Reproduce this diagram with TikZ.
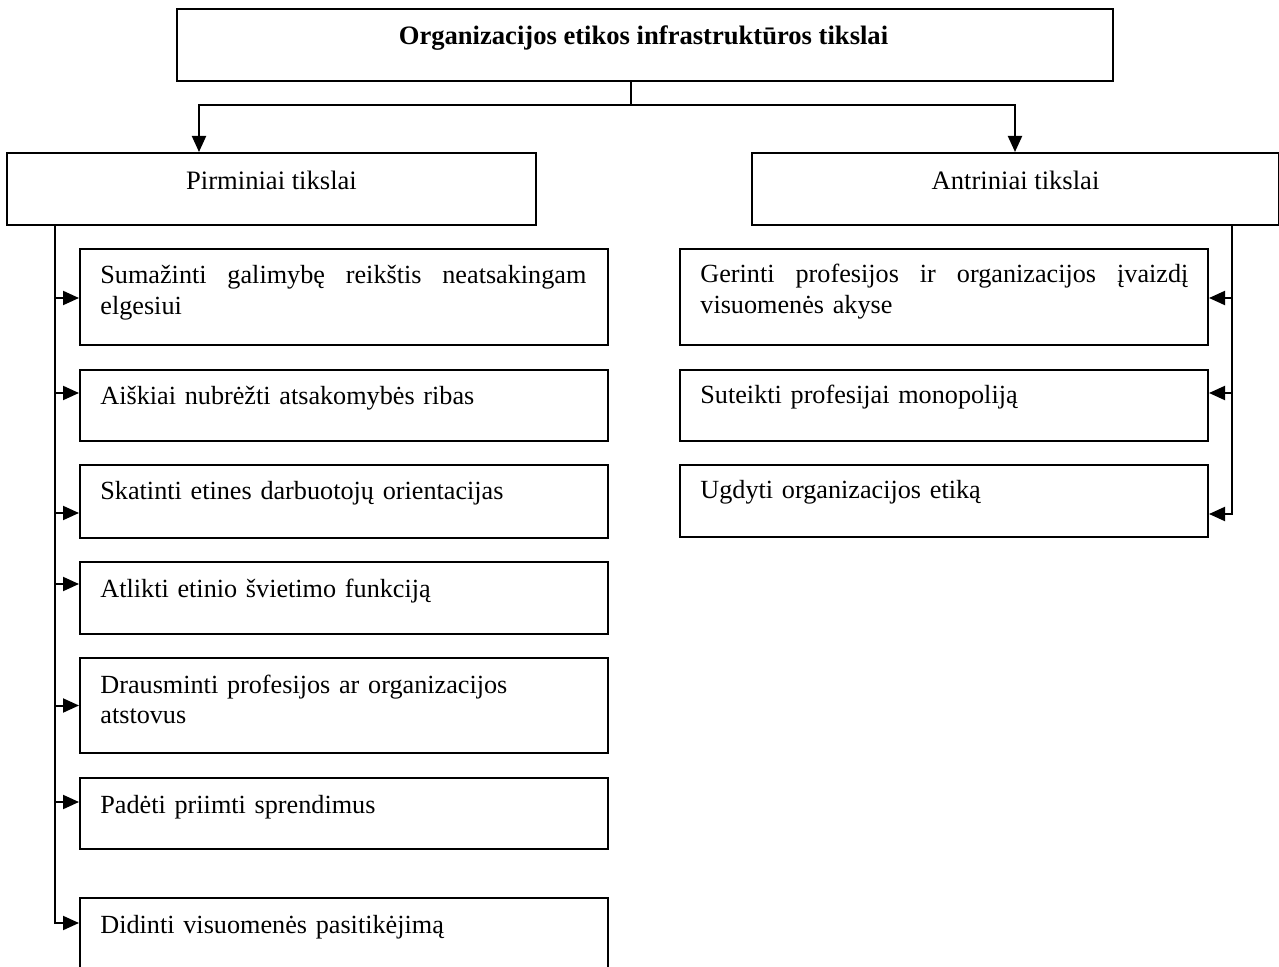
\documentclass[tikz,border=0pt]{standalone}
\usepackage{fontspec}
\setmainfont{Liberation Serif}
\usetikzlibrary{arrows.meta,calc}
\tikzset{
  box/.style={draw, line width=1pt, inner sep=0pt, anchor=north west},
  txt/.style={inner sep=0pt, anchor=base west, text width=244pt, align=left,
              font=\fontsize{13.1}{15.3}\selectfont},
  ctxt/.style={inner sep=0pt, anchor=base, font=\fontsize{13.3}{15.3}\selectfont},
  conn/.style={line width=1pt},
  arr/.style={line width=1pt, -{Triangle[length=8pt,width=7pt]}}
}
\begin{document}
\begin{tikzpicture}[x=0.5pt,y=-0.5pt]
\useasboundingbox (0,0) rectangle (1279,967);
% boxes
\node[box, minimum width=468pt, minimum height=36pt] (top) at (176,8) {};
\node[box, minimum width=264.5pt, minimum height=36pt] (pir) at (6,152) {};
\node[box, minimum width=263.5pt, minimum height=36pt] (ant) at (751,152) {};
\node[box, minimum width=264pt, minimum height=48pt] (b1) at (79,248) {};
\node[box, minimum width=264pt, minimum height=35.5pt] (b2) at (79,369) {};
\node[box, minimum width=264pt, minimum height=36.5pt] (b3) at (79,464) {};
\node[box, minimum width=264pt, minimum height=36pt] (b4) at (79,561) {};
\node[box, minimum width=264pt, minimum height=47.5pt] (b5) at (79,657) {};
\node[box, minimum width=264pt, minimum height=35.5pt] (b6) at (79,777) {};
\node[box, minimum width=264pt, minimum height=37pt] (b7) at (79,897) {};
\node[box, minimum width=264pt, minimum height=48pt] (r1) at (679,248) {};
\node[box, minimum width=264pt, minimum height=35.5pt] (r2) at (679,369) {};
\node[box, minimum width=264pt, minimum height=36pt] (r3) at (679,464) {};
% texts
\node[ctxt, font=\fontsize{13.3}{15.3}\selectfont\bfseries] (ttop) at ([xshift=-0.75pt,yshift=-18.5pt]top.north) {Organizacijos etikos infrastruktūros tikslai};
\node[ctxt] (tpir) at ([yshift=-19pt]pir.north) {Pirminiai tikslai};
\node[ctxt] (tant) at ([yshift=-19pt]ant.north) {Antriniai tikslai};
\node[txt] (t1) at ([shift={(10.5pt,-18pt)}]b1.north west) {\hbox to 243pt{Sumažinti\hfill galimybę\hfill reikštis\hfill neatsakingam}\\elgesiui};
\node[txt] (t2) at ([shift={(10.5pt,-18pt)}]b2.north west) {Aiškiai nubrėžti atsakomybės ribas};
\node[txt] (t3) at ([shift={(10.5pt,-18pt)}]b3.north west) {Skatinti etines darbuotojų orientacijas};
\node[txt] (t4) at ([shift={(10.5pt,-18pt)}]b4.north west) {Atlikti etinio švietimo funkciją};
\node[txt] (t5) at ([shift={(10.5pt,-18pt)}]b5.north west) {Drausminti profesijos ar organizacijos\\atstovus};
\node[txt] (t6) at ([shift={(10.5pt,-18pt)}]b6.north west) {Padėti priimti sprendimus};
\node[txt] (t7) at ([shift={(10.5pt,-18pt)}]b7.north west) {Didinti visuomenės pasitikėjimą};
\node[txt] (u1) at ([shift={(10.5pt,-17.5pt)}]r1.north west) {\hbox to 244pt{Gerinti\hfill profesijos\hfill ir\hfill organizacijos\hfill įvaizdį}\\visuomenės akyse};
\node[txt] (u2) at ([shift={(10.5pt,-17.5pt)}]r2.north west) {Suteikti profesijai monopoliją};
\node[txt] (u3) at ([shift={(10.5pt,-17.5pt)}]r3.north west) {Ugdyti organizacijos etiką};
% top connectors
\coordinate (stem) at (631,105);
\coordinate (pa) at (199,105);
\coordinate (aa) at (1015,105);
\draw[conn] (top.south -| stem) -- (stem);
\draw[arr] (stem) -- (pa) -- (pa |- pir.north);
\draw[arr] (stem) -- (aa) -- (aa |- ant.north);
% left spine
\coordinate (ls) at (55,0);
\draw[arr] (pir.south -| ls) |- ([yshift=6pt]b7.west);
\draw[arr] ([yshift=-0.5pt]b1.west -| ls) -- ([yshift=-0.5pt]b1.west);
\draw[arr] ([yshift=6.25pt]b2.west -| ls) -- ([yshift=6.25pt]b2.west);
\draw[arr] ([yshift=-5.75pt]b3.west -| ls) -- ([yshift=-5.75pt]b3.west);
\draw[arr] ([yshift=7pt]b4.west -| ls) -- ([yshift=7pt]b4.west);
\draw[arr] (b5.west -| ls) -- (b5.west);
\draw[arr] ([yshift=5.75pt]b6.west -| ls) -- ([yshift=5.75pt]b6.west);
% right spine
\coordinate (rs) at (1232,0);
\draw[arr] (ant.south -| rs) |- ([yshift=-6.5pt]r3.east);
\draw[arr] ([yshift=-0.5pt]r1.east -| rs) -- ([yshift=-0.5pt]r1.east);
\draw[arr] ([yshift=6.25pt]r2.east -| rs) -- ([yshift=6.25pt]r2.east);
\end{tikzpicture}
\end{document}
